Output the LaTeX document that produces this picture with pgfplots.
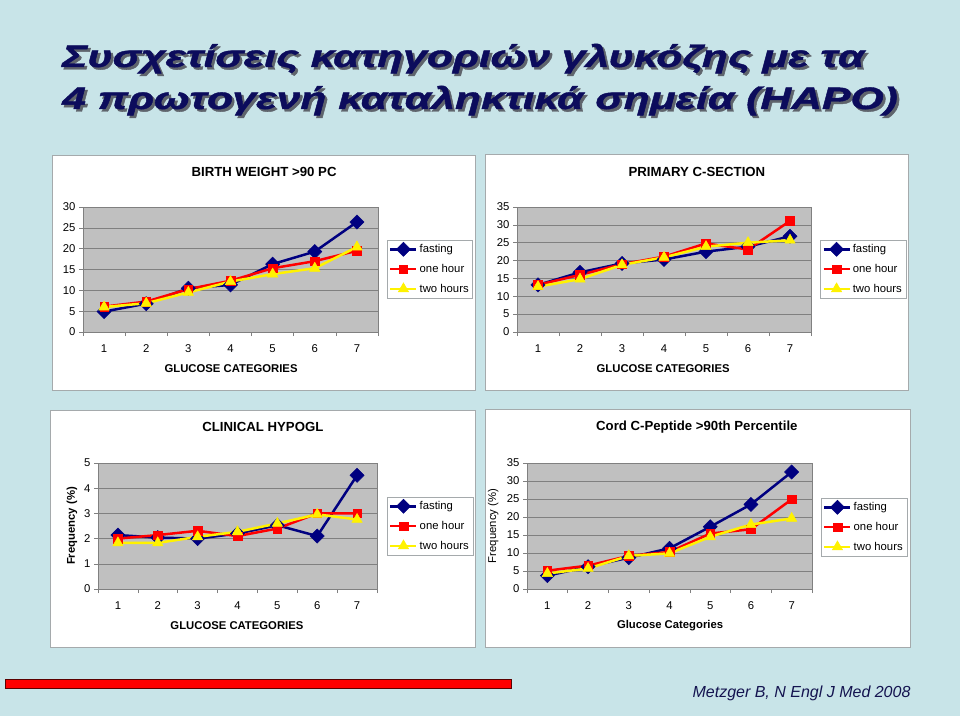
\documentclass[border=0pt]{standalone}
\usepackage{graphicx}
\usepackage{pgfplots}
\pgfplotsset{compat=1.18}
\usepackage{fontspec}
\setmainfont{Liberation Sans}
\newfontfamily\titlefont[FakeBold=1.2]{Liberation Sans}
\definecolor{bgblue}{RGB}{200,228,232}
\definecolor{plotgray}{RGB}{192,192,192}
\definecolor{gridgray}{RGB}{128,128,128}
\definecolor{navy}{RGB}{0,0,128}
\definecolor{titlenavy}{RGB}{12,12,92}
\definecolor{shadowgray}{RGB}{95,100,108}
\definecolor{boxgray}{RGB}{165,170,172}
\newcommand{\fs}{\fontsize{11.3}{13}\selectfont}
\newcommand{\tfs}{\fontsize{13.2}{15}\selectfont}
\newcommand{\bigtitle}[1]{\scalebox{1.377}[1]{\titlefont\fontsize{31}{31}\selectfont\bfseries\itshape #1}}
\pgfplotsset{
 hapo/.style={
  scale only axis,
  xmin=0.5, xmax=7.5, ymin=0,
  xtick={1,...,7},
  minor xtick={0.5,1.5,...,7.5},
  major x tick style={draw=none},
  tick align=outside, tick pos=left,
  major tick length=4pt, minor tick length=4pt,
  axis background/.style={fill=plotgray},
  ymajorgrids, grid style={gridgray, line width=0.6pt},
  axis line style={gridgray, line width=0.8pt},
  tick style={gridgray, line width=0.6pt},
  font=\fs,
  /pgf/number format/assume math mode=true,
  xticklabel style={yshift=-5pt},
  title style={font=\tfs\bfseries, anchor=center},
  xlabel style={font=\fs\bfseries, anchor=center},
  ylabel style={font=\fs\bfseries, anchor=center},
  legend style={draw=boxgray, fill=white, anchor=north west, font=\fs,
     inner xsep=2pt, inner ysep=2pt, row sep=6pt},
  legend cell align=left,
  legend image code/.code={\draw[mark repeat=2,mark phase=2] plot coordinates {(0pt,0pt)(13pt,0pt)(26pt,0pt)};},
 },
 fast/.style={navy, line width=2.5pt, mark=square*, mark size=5pt, mark options={rotate=45, solid, line width=0.5pt}},
 one/.style={red, line width=2.5pt, mark=square*, mark size=4.3pt, mark options={solid, line width=0.5pt}},
 two/.style={yellow, line width=2.5pt, mark=triangle*, mark size=6pt, mark options={solid, line width=0.5pt}},
}
\begin{document}
\begin{tikzpicture}
\useasboundingbox (0pt,0pt) rectangle (960pt,716pt);
\fill[bgblue] (0pt,0pt) rectangle (960pt,716pt);
% title
\node[anchor=base west, inner sep=0pt, text=shadowgray] at (64.5pt,646.5pt) {\bigtitle{Συσχετίσεις κατηγοριών γλυκόζης με τα}};
\node[anchor=base west, inner sep=0pt, text=titlenavy] at (62pt,649pt) {\bigtitle{Συσχετίσεις κατηγοριών γλυκόζης με τα}};
\node[anchor=base west, inner sep=0pt, text=shadowgray] at (64.5pt,604.5pt) {\bigtitle{4 πρωτογενή καταληκτικά σημεία (HAPO)}};
\node[anchor=base west, inner sep=0pt, text=titlenavy] at (62pt,607pt) {\bigtitle{4 πρωτογενή καταληκτικά σημεία (HAPO)}};
% panel boxes
\draw[boxgray, fill=white] (52pt,326pt) rectangle (475pt,561pt);
\draw[boxgray, fill=white] (485pt,326pt) rectangle (908pt,562pt);
\draw[boxgray, fill=white] (50pt,69pt) rectangle (475pt,306pt);
\draw[boxgray, fill=white] (485pt,69pt) rectangle (910pt,307pt);
% red bar and citation
\draw[fill=red, draw={rgb,255:red,90;green,0;blue,0}, line width=0.8pt] (5pt,28pt) rectangle (511pt,37pt);
\node[anchor=east, text={rgb,255:red,20;green,20;blue,80}, font=\fontsize{16}{18}\selectfont\itshape] at (914pt,23pt) {Metzger B, N Engl J Med 2008};

% Panel 1
\begin{axis}[hapo, at={(83pt,384pt)}, anchor=south west, width=295pt, height=125pt,
  ymax=30, ytick={0,5,...,30},
  title={BIRTH WEIGHT >90 PC}, title style={at={(axis description cs:0.614,1.232)}},
  xlabel={GLUCOSE CATEGORIES}, xlabel style={at={(axis description cs:0.502,-0.296)}},
  legend style={at={(axis description cs:1.0305,0.736)}}]
\addplot[fast] coordinates {(1,4.9)(2,6.8)(3,10.5)(4,11.3)(5,16.3)(6,19.3)(7,26.4)};
\addplot[one] coordinates {(1,6.1)(2,7.3)(3,10.3)(4,12.3)(5,15.3)(6,17.0)(7,19.5)};
\addplot[two] coordinates {(1,6.0)(2,6.9)(3,9.5)(4,12.1)(5,13.9)(6,15.3)(7,20.4)};
\legend{fasting,one hour,two hours}
\end{axis}

% Panel 2
\begin{axis}[hapo, at={(517pt,384pt)}, anchor=south west, width=294pt, height=125pt,
  ymax=35, ytick={0,5,...,35},
  title={PRIMARY C-SECTION}, title style={at={(axis description cs:0.612,1.232)}},
  xlabel={GLUCOSE CATEGORIES}, xlabel style={at={(axis description cs:0.497,-0.296)}},
  legend style={at={(axis description cs:1.031,0.736)}}]
\addplot[fast] coordinates {(1,13.2)(2,16.7)(3,19.2)(4,20.3)(5,22.5)(6,23.9)(7,26.8)};
\addplot[one] coordinates {(1,13.2)(2,16.0)(3,19.0)(4,21.1)(5,24.8)(6,23.1)(7,31.1)};
\addplot[two] coordinates {(1,12.7)(2,14.8)(3,18.8)(4,20.9)(5,23.9)(6,25.0)(7,25.7)};
\legend{fasting,one hour,two hours}
\end{axis}

% Panel 3
\begin{axis}[hapo, at={(98pt,127pt)}, anchor=south west, width=279pt, height=126pt,
  ymax=5, ytick={0,1,...,5},
  title={CLINICAL HYPOGL}, title style={at={(axis description cs:0.591,1.238)}},
  xlabel={GLUCOSE CATEGORIES}, xlabel style={at={(axis description cs:0.498,-0.294)}},
  ylabel={Frequency (\%)}, ylabel style={at={(axis description cs:-0.093,0.5)}},
  legend style={at={(axis description cs:1.036,0.730)}}]
\addplot[fast] coordinates {(1,2.14)(2,2.04)(3,2.0)(4,2.2)(5,2.53)(6,2.1)(7,4.51)};
\addplot[one] coordinates {(1,2.0)(2,2.14)(3,2.31)(4,2.1)(5,2.4)(6,3.0)(7,3.0)};
\addplot[two] coordinates {(1,1.83)(2,1.83)(3,2.07)(4,2.27)(5,2.6)(6,2.96)(7,2.76)};
\legend{fasting,one hour,two hours}
\end{axis}

% Panel 4
\begin{axis}[hapo, at={(527pt,127pt)}, anchor=south west, width=285pt, height=126pt,
  ymax=35, ytick={0,5,...,35},
  title={Cord C-Peptide >90th Percentile}, title style={at={(axis description cs:0.596,1.238)}},
  xlabel={Glucose Categories}, xlabel style={at={(axis description cs:0.502,-0.294)}},
  ylabel={Frequency (\%)}, ylabel style={at={(axis description cs:-0.119,0.5)}, font=\fs\mdseries},
  legend style={at={(axis description cs:1.0316,0.722)}}]
\addplot[fast] coordinates {(1,3.7)(2,6.2)(3,8.7)(4,11.3)(5,17.3)(6,23.5)(7,32.5)};
\addplot[one] coordinates {(1,5.1)(2,6.5)(3,9.2)(4,10.3)(5,15.4)(6,16.6)(7,24.9)};
\addplot[two] coordinates {(1,4.3)(2,5.7)(3,9.2)(4,9.9)(5,14.5)(6,17.9)(7,19.6)};
\legend{fasting,one hour,two hours}
\end{axis}
\end{tikzpicture}
\end{document}
